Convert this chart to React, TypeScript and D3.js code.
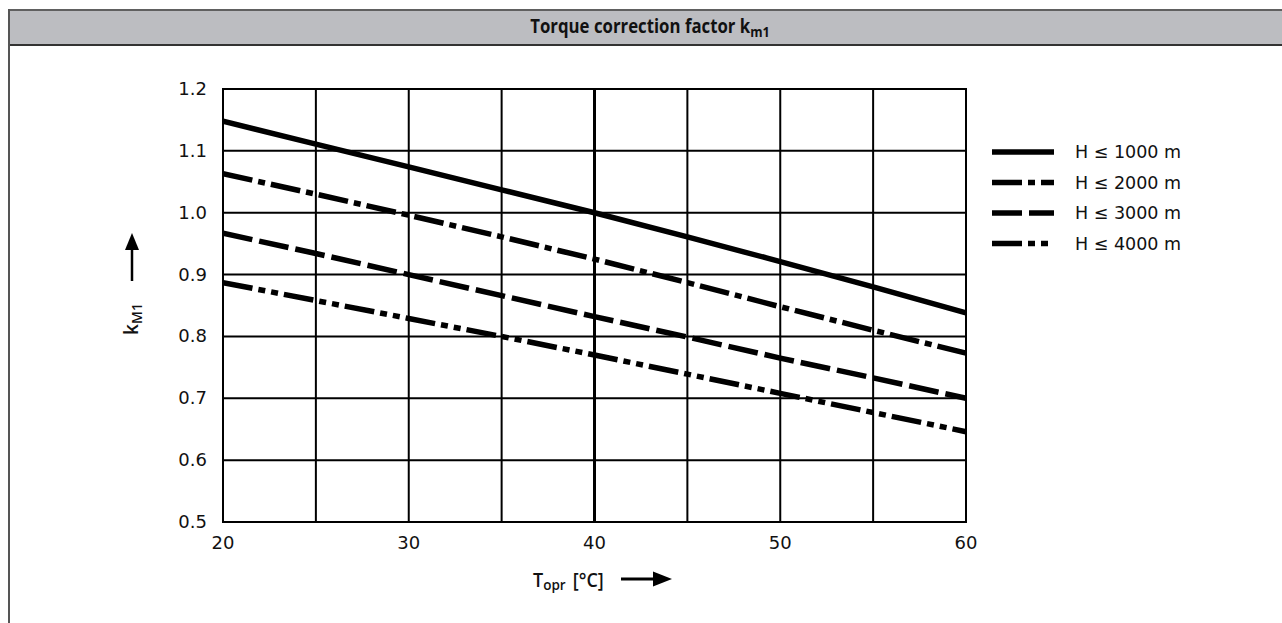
import * as d3 from 'd3';

const TEMPS = [20, 25, 30, 35, 40, 45, 50, 55, 60];
const H1000 = [1.148, 1.111, 1.074, 1.037, 1.0, 0.961, 0.921, 0.88, 0.838];
const H2000 = [1.063, 1.03, 0.996, 0.961, 0.925, 0.887, 0.848, 0.81, 0.773];
const H3000 = [0.967, 0.934, 0.9, 0.866, 0.832, 0.799, 0.765, 0.733, 0.7];
const H4000 = [0.887, 0.858, 0.829, 0.8, 0.77, 0.739, 0.708, 0.677, 0.646];

const SERIES = [
  { label: 'H ≤ 1000 m', values: H1000, dash: '' },
  { label: 'H ≤ 2000 m', values: H2000, dash: '30 6 7 6' },
  { label: 'H ≤ 3000 m', values: H3000, dash: '30 7' },
  { label: 'H ≤ 4000 m', values: H4000, dash: '30 6 7 6 7 6' },
];

const X_TICKS = [20, 30, 40, 50, 60];
const X_GRID = [25, 30, 35, 40, 45, 50, 55];
const Y_TICKS = [0.5, 0.6, 0.7, 0.8, 0.9, 1.0, 1.1, 1.2];

const FONT = "'DejaVu Sans', sans-serif";
const NARROW = "'Open Sans', sans-serif";

export default function App() {
  const W = 1282;
  const H = 623;
  const plot = { left: 223, right: 966, top: 89, bottom: 522 };

  const x = d3.scaleLinear().domain([20, 60]).range([plot.left, plot.right]);
  const y = d3.scaleLinear().domain([0.5, 1.2]).range([plot.bottom, plot.top]);

  const line = d3.line<number>()
    .x((_, i) => x(TEMPS[i]))
    .y(d => y(d));

  return (
    <svg width={W} height={H} style={{ position: 'absolute', left: 0, top: 0 }}>
      <rect x={0} y={0} width={W} height={H} fill="#fff" />
      {/* title bar */}
      <rect x={9} y={10} width={W} height={35} fill="#bcbdc1" />
      <line x1={9} x2={W} y1={10} y2={10} stroke="#606060" strokeWidth={2} />
      <line x1={9} x2={W} y1={45} y2={45} stroke="#333" strokeWidth={2} />
      <line x1={9} x2={9} y1={9} y2={H} stroke="#555" strokeWidth={2} />
      <g transform="translate(650,33) scale(0.84,1)">
        <text x={0} y={0} textAnchor="middle" fontFamily={NARROW} fontWeight={700} fontSize={20} fill="#111">
          Torque correction factor k<tspan fontSize={15} dy={4}>m1</tspan>
        </text>
      </g>

      {/* grid */}
      {Y_TICKS.slice(1, -1).map(t => (
        <line key={'gy' + t} x1={plot.left} x2={plot.right} y1={y(t)} y2={y(t)} stroke="#000" strokeWidth={2} />
      ))}
      {X_GRID.map(t => (
        <line key={'gx' + t} x1={x(t)} x2={x(t)} y1={plot.top} y2={plot.bottom} stroke="#000" strokeWidth={t === 40 ? 3 : 2} />
      ))}
      <rect x={plot.left} y={plot.top} width={plot.right - plot.left} height={plot.bottom - plot.top} fill="none" stroke="#000" strokeWidth={2} />

      {/* tick labels */}
      {Y_TICKS.map(t => (
        <text key={'ty' + t} x={plot.left - 16} y={y(t) + 6} textAnchor="end" fontFamily={FONT} fontSize={18} fill="#111">
          {t.toFixed(1)}
        </text>
      ))}
      {X_TICKS.map(t => (
        <text key={'tx' + t} x={x(t)} y={plot.bottom + 27} textAnchor="middle" fontFamily={FONT} fontSize={18} fill="#111">
          {t}
        </text>
      ))}

      {/* series */}
      <g clipPath="url(#clip)">
        {SERIES.map(s => (
          <path key={s.label} d={line(s.values) ?? ''} fill="none" stroke="#000" strokeWidth={5.5} strokeDasharray={s.dash || undefined} />
        ))}
      </g>
      <defs>
        <clipPath id="clip">
          <rect x={plot.left} y={plot.top - 5} width={plot.right - plot.left + 4} height={plot.bottom - plot.top + 10} />
        </clipPath>
      </defs>

      {/* legend */}
      {SERIES.map((s, i) => {
        const ly = 152 + i * 30.5;
        return (
          <g key={'lg' + s.label}>
            <line x1={992} x2={1054} y1={ly} y2={ly} stroke="#000" strokeWidth={5.5} strokeDasharray={s.dash || undefined} />
            <text x={1075} y={ly + 6} fontFamily={FONT} fontSize={17.5} fill="#111">{s.label}</text>
          </g>
        );
      })}

      {/* axis titles */}
      <g transform="translate(138,319) rotate(-90)">
        <text x={0} y={0} textAnchor="middle" fontFamily={NARROW} fontWeight={600} fontSize={19} fill="#111">
          k<tspan fontSize={14} dy={4}>M1</tspan>
        </text>
      </g>
      <line x1={132} x2={132} y1={281} y2={248} stroke="#000" strokeWidth={2.5} />
      <path d="M132,233 L125,250 L139,250 Z" fill="#000" />

      <g transform="translate(533,587) scale(0.9,1)">
        <text x={0} y={0} fontFamily={NARROW} fontWeight={600} fontSize={20} fill="#111">
          T<tspan fontSize={15} dy={3}>opr</tspan><tspan dy={-3} dx={8}>[°C]</tspan>
        </text>
      </g>
      <line x1={621} x2={656} y1={579} y2={579} stroke="#000" strokeWidth={3} />
      <path d="M672,579 L653,571.5 L653,586.5 Z" fill="#000" />
    </svg>
  );
}
